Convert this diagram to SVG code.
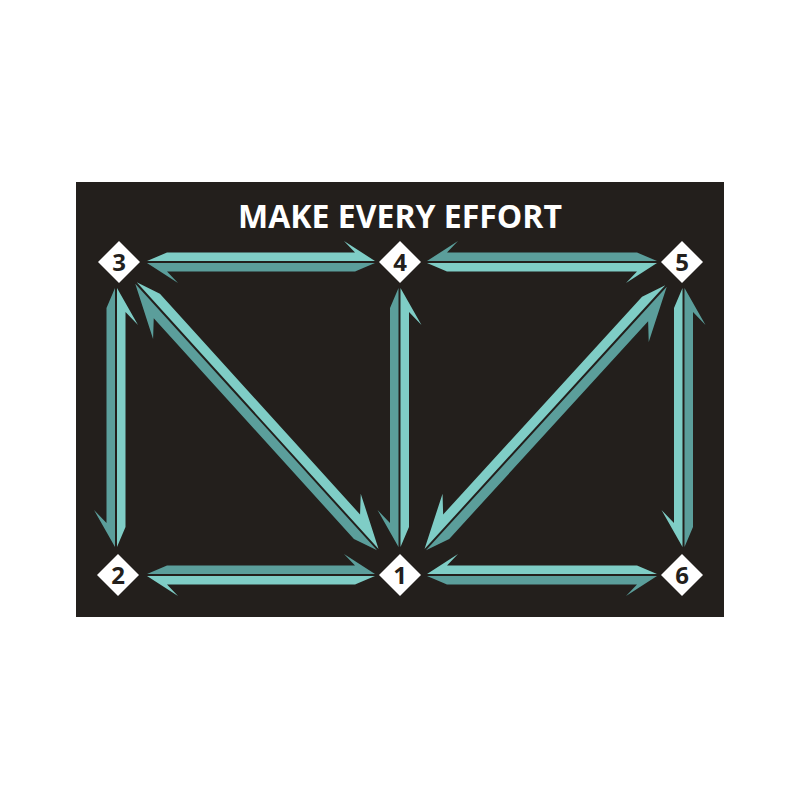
<svg xmlns="http://www.w3.org/2000/svg" width="800" height="800" viewBox="0 0 800 800">
<style>
.lt{fill:#7fcdc6}
.dk{fill:#5b9e9b}
.nd{fill:#ffffff}
.num{font-family:"Open Sans","Liberation Sans",sans-serif;font-weight:700;font-size:24px;fill:#231f1c;text-anchor:middle}
.title{font-family:"Open Sans","Liberation Sans",sans-serif;font-weight:700;font-size:32px;fill:#ffffff;text-anchor:middle}
</style>
<rect x="76" y="182" width="648" height="435" fill="#231f1c"/>
<text class="title" x="400" y="228" textLength="324" lengthAdjust="spacingAndGlyphs">MAKE EVERY EFFORT</text>
<g id="connectors">
  <g id="e3-4" transform="translate(147,262)">
    <polygon class="lt" points="0,-1 20,-9.5 208,-9.5 197,-21 228,-1"/>
    <polygon class="dk" points="228,1 208,9.5 20,9.5 31,21 0,1"/>
  </g>
  <g id="e4-5" transform="translate(427,262)">
    <polygon class="dk" points="230,-1 210,-9.5 20,-9.5 31,-21 0,-1"/>
    <polygon class="lt" points="0,1 20,9.5 210,9.5 199,21 230,1"/>
  </g>
  <g id="e2-1" transform="translate(147,575)">
    <polygon class="dk" points="0,-1 20,-9.5 208,-9.5 197,-21 228,-1"/>
    <polygon class="lt" points="228,1 208,9.5 20,9.5 31,21 0,1"/>
  </g>
  <g id="e1-6" transform="translate(427,575)">
    <polygon class="lt" points="230,-1 210,-9.5 20,-9.5 31,-21 0,-1"/>
    <polygon class="dk" points="0,1 20,9.5 210,9.5 199,21 230,1"/>
  </g>
  <g id="e3-2" transform="translate(116,288) rotate(90)">
    <polygon class="lt" points="259,-1 239,-9.5 24,-9.5 37,-22 0,-1"/>
    <polygon class="dk" points="0,1 20,9.5 235,9.5 222,22 259,1"/>
  </g>
  <g id="e4-1" transform="translate(399.5,288) rotate(90)">
    <polygon class="lt" points="259,-1 239,-9.5 24,-9.5 37,-22 0,-1"/>
    <polygon class="dk" points="0,1 20,9.5 235,9.5 222,22 259,1"/>
  </g>
  <g id="e5-6" transform="translate(683.5,288) rotate(90)">
    <polygon class="dk" points="259,-1 239,-9.5 24,-9.5 37,-22 0,-1"/>
    <polygon class="lt" points="0,1 20,9.5 235,9.5 222,22 259,1"/>
  </g>
  <g id="e3-1" transform="translate(136,283) rotate(47.8)">
    <polygon class="lt" points="0,-1 24,-10.5 322,-10.5 307,-25 360,-1"/>
    <polygon class="dk" points="360,1 336,10.5 38,10.5 53,25 0,1"/>
  </g>
  <g id="e5-1" transform="translate(666,286) rotate(132.4)">
    <polygon class="dk" points="357,-1 333,-10.5 38,-10.5 53,-25 0,-1"/>
    <polygon class="lt" points="0,1 24,10.5 319,10.5 304,25 357,1"/>
  </g>
</g>
<g id="n3"><polygon class="nd" points="119,241 140,262 119,283 98,262"/><text class="num" x="119" y="270.5">3</text></g>
<g id="n4"><polygon class="nd" points="400,241 421,262 400,283 379,262"/><text class="num" x="400" y="270.5">4</text></g>
<g id="n5"><polygon class="nd" points="682,241 703,262 682,283 661,262"/><text class="num" x="682" y="270.5">5</text></g>
<g id="n2"><polygon class="nd" points="118,554 139,575 118,596 97,575"/><text class="num" x="118" y="583.5">2</text></g>
<g id="n1"><polygon class="nd" points="400,554 421,575 400,596 379,575"/><text class="num" x="400" y="583.5">1</text></g>
<g id="n6"><polygon class="nd" points="682,554 703,575 682,596 661,575"/><text class="num" x="682" y="583.5">6</text></g>
</svg>
